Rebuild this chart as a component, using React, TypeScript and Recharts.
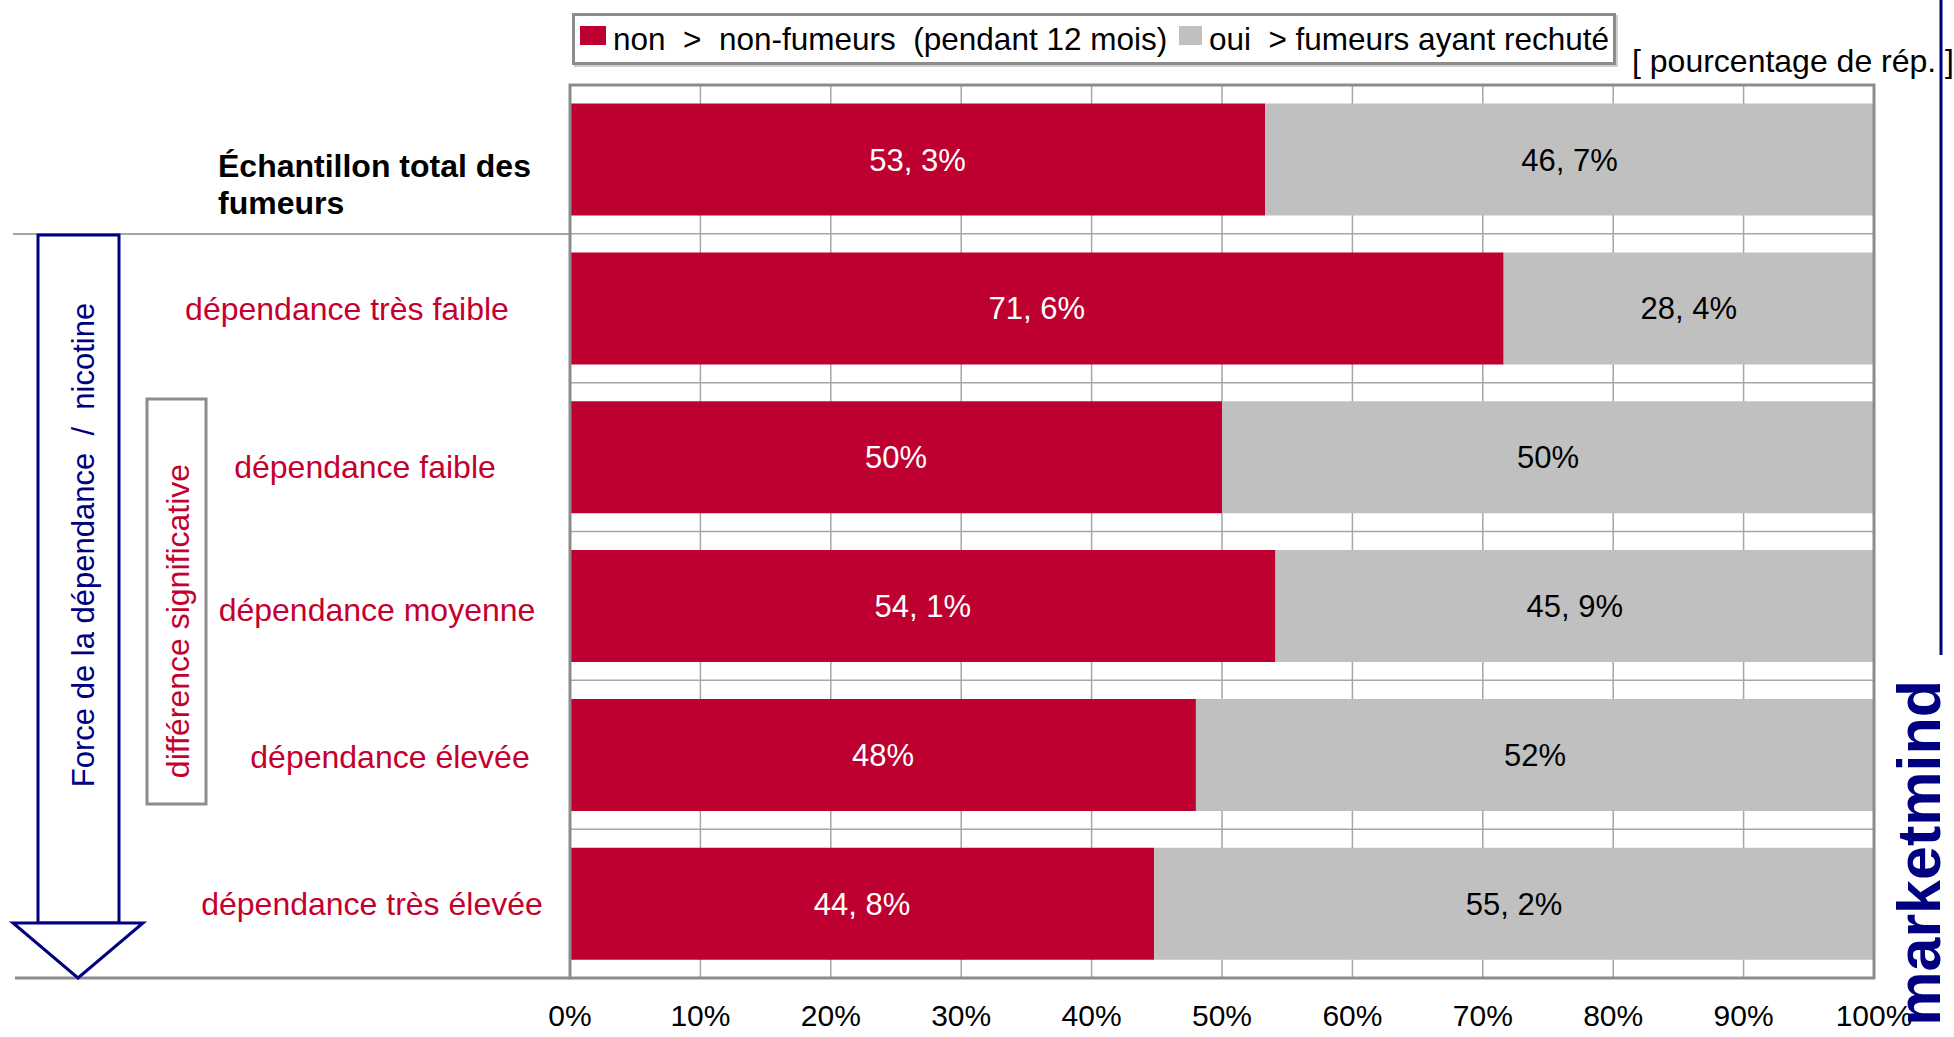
import React from 'react';
import { BarChart, Bar, XAxis, YAxis, CartesianGrid, LabelList, Legend } from 'recharts';

// ---------- data ----------
const categories = [
  'Échantillon total des\nfumeurs',
  'dépendance très faible',
  'dépendance faible',
  'dépendance moyenne',
  'dépendance élevée',
  'dépendance très élevée',
];
const nonFumeurs = [53.3, 71.6, 50, 54.1, 48, 44.8];
const fumeursRechute = [46.7, 28.4, 50, 45.9, 52, 55.2];
const xTicks = [0, 10, 20, 30, 40, 50, 60, 70, 80, 90, 100];
const seriesNames = ['non  >  non-fumeurs  (pendant 12 mois)', 'oui  > fumeurs ayant rechuté'];
const unitNote = '[ pourcentage de rép. ]';
const arrowLabel = 'Force de la dépendance  /  nicotine';
const boxLabel = 'différence significative';
const brand = 'marketmind';

const data = categories.map((name, i) => ({ name, non: nonFumeurs[i], oui: fumeursRechute[i] }));

// ---------- style ----------
const FONT = "'Liberation Sans', Arial, Helvetica, sans-serif";
const RED = '#BE0030';
const GRAY = '#C0C0C0';
const NAVY = '#000080';
const LABEL_RED = '#C4002F';
const GRID = '#A6A6A6';
const FRAME = '#8C8C8C';

const W = 1954;
const H = 1037;
const PLOT = { left: 570, top: 85, right: 1874, bottom: 978 };

// per-row label layout: anchor, x, baseline offsets from band centre
const yLabelLayout = [
  { anchor: 'start', x: 218, dys: [18, 55], color: '#000', weight: 'bold' },
  { anchor: 'middle', x: 347, dys: [12], color: LABEL_RED, weight: 'normal' },
  { anchor: 'middle', x: 365, dys: [21], color: LABEL_RED, weight: 'normal' },
  { anchor: 'middle', x: 377, dys: [15], color: LABEL_RED, weight: 'normal' },
  { anchor: 'middle', x: 390, dys: [13], color: LABEL_RED, weight: 'normal' },
  { anchor: 'middle', x: 372, dys: [11], color: LABEL_RED, weight: 'normal' },
];

const fmt = (v: any) => {
  const n = Number(v);
  const s = Number.isInteger(n) ? `${n}` : n.toFixed(1).replace('.', ', ');
  return `${s}%`;
};

const YTick = (props: any) => {
  const { y, payload } = props;
  const idx = categories.indexOf(payload.value);
  const lay = yLabelLayout[idx] || yLabelLayout[1];
  const lines = String(payload.value).split('\n');
  return (
    <g>
      {lines.map((ln, i) => (
        <text
          key={i}
          x={lay.x}
          y={y + (lay.dys[i] ?? lay.dys[0])}
          textAnchor={lay.anchor as any}
          fontSize={32}
          fontFamily={FONT}
          fontWeight={lay.weight as any}
          fill={lay.color}
        >
          {ln}
        </text>
      ))}
    </g>
  );
};

const XTick = (props: any) => {
  const { x, y, payload } = props;
  return (
    <text x={x} y={y + 40} textAnchor="middle" fontSize={30} fontFamily={FONT} fill="#000">
      {`${payload.value}%`}
    </text>
  );
};

const renderLegend = (props: any) => {
  const payload = props.payload || [];
  const widths = [599, 430];
  return (
    <div
      style={{
        width: 1044,
        height: 52,
        boxSizing: 'border-box',
        border: `3px solid ${FRAME}`,
        boxShadow: '2px 2px 0 #cfcfcf',
        background: '#fff',
        display: 'flex',
        alignItems: 'center',
        paddingLeft: 5,
        fontFamily: FONT,
        fontSize: 31.5,
        whiteSpace: 'pre',
        color: '#000',
      }}
    >
      {payload.map((p: any, i: number) => (
        <div key={i} style={{ display: 'flex', alignItems: 'center', width: widths[i] }}>
          <span
            style={{
              display: 'inline-block',
              width: 26,
              height: 19,
              background: p.color,
              marginRight: 7,
              marginTop: -8,
            }}
          />
          <span>{p.value}</span>
        </div>
      ))}
    </div>
  );
};

const hGrid = ({ offset }: any) => {
  const res: number[] = [];
  for (let i = 0; i <= categories.length; i++) {
    res.push(offset.top + (i * offset.height) / categories.length);
  }
  return res;
};

const Overlay = () => (
  <svg
    width={W}
    height={H}
    style={{ position: 'absolute', left: 0, top: 0, pointerEvents: 'none' }}
  >
    {/* separator lines extending left */}
    <line x1={13} y1={234} x2={PLOT.left} y2={234} stroke={GRID} strokeWidth={2} />
    <line x1={15} y1={PLOT.bottom} x2={PLOT.left} y2={PLOT.bottom} stroke={FRAME} strokeWidth={3} />
    {/* plot frame */}
    <rect
      x={PLOT.left}
      y={PLOT.top}
      width={PLOT.right - PLOT.left}
      height={PLOT.bottom - PLOT.top}
      fill="none"
      stroke={FRAME}
      strokeWidth={3}
    />
    {/* arrow */}
    <rect x={38} y={235} width={81} height={688} fill="none" stroke={NAVY} strokeWidth={3} />
    <polygon points="13,923 143,923 78,978" fill="#fff" stroke={NAVY} strokeWidth={3} strokeLinejoin="miter" />
    <text
      transform="translate(94,545) rotate(-90)"
      textAnchor="middle"
      fontSize={31}
      fontFamily={FONT}
      fill={NAVY}
      style={{ whiteSpace: 'pre' }}
    >
      {arrowLabel}
    </text>
    {/* significance box */}
    <rect x={147} y={399} width={59} height={405} fill="none" stroke={FRAME} strokeWidth={3} />
    <text
      transform="translate(189,621) rotate(-90)"
      textAnchor="middle"
      fontSize={32}
      fontFamily={FONT}
      fill={LABEL_RED}
    >
      {boxLabel}
    </text>
    {/* unit note */}
    <text x={1632} y={72} fontSize={32} fontFamily={FONT} fill="#000" style={{ whiteSpace: 'pre' }}>
      {unitNote}
    </text>
    {/* brand */}
    <line x1={1941} y1={0} x2={1941} y2={655} stroke={NAVY} strokeWidth={3} />
    <text
      transform="translate(1940,680) rotate(-90)"
      textAnchor="end"
      fontSize={61}
      fontWeight="bold"
      fontFamily={FONT}
      fill={NAVY}
    >
      {brand}
    </text>
  </svg>
);

export default function App() {
  return (
    <div style={{ position: 'absolute', left: 0, top: 0, width: W, height: H, background: '#fff' }}>
      <BarChart
        width={W}
        height={H}
        data={data}
        layout="vertical"
        margin={{ top: PLOT.top, right: W - PLOT.right, bottom: 0, left: 0 }}
        barCategoryGap="12.5%"
      >
        <CartesianGrid
          stroke={GRID}
          strokeWidth={1.5}
          horizontalCoordinatesGenerator={hGrid}
        />
        <XAxis
          type="number"
          domain={[0, 100]}
          ticks={xTicks}
          interval={0}
          axisLine={false}
          tickLine={false}
          tick={<XTick />}
          height={H - PLOT.bottom}
        />
        <YAxis
          type="category"
          dataKey="name"
          width={PLOT.left}
          axisLine={false}
          tickLine={false}
          interval={0}
          tick={<YTick />}
        />
        <Legend
          layout="horizontal"
          verticalAlign="middle"
          align="center"
          content={renderLegend}
          wrapperStyle={{ position: 'absolute', left: 572, top: 13, width: 1044, height: 52 }}
        />
        <Bar dataKey="non" name={seriesNames[0]} stackId="a" fill={RED} isAnimationActive={false}>
          <LabelList dataKey="non" position="center" fill="#fff" fontSize={31} fontFamily={FONT} formatter={fmt} />
        </Bar>
        <Bar dataKey="oui" name={seriesNames[1]} stackId="a" fill={GRAY} isAnimationActive={false}>
          <LabelList dataKey="oui" position="center" fill="#000" fontSize={31} fontFamily={FONT} formatter={fmt} />
        </Bar>
      </BarChart>
      <Overlay />
    </div>
  );
}
